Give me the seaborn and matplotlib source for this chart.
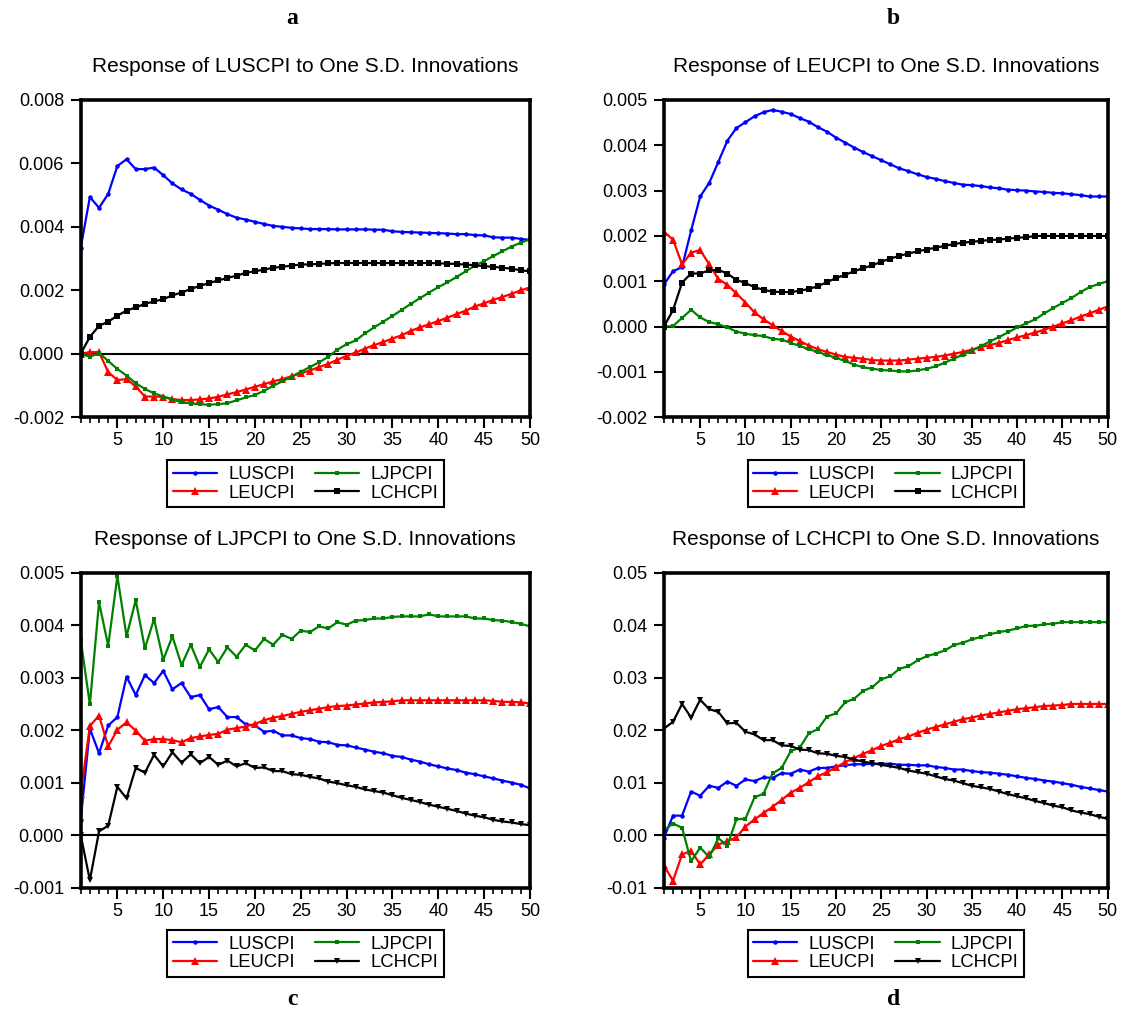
import matplotlib
matplotlib.use("Agg")
import matplotlib.pyplot as plt
import seaborn as sns
from matplotlib.ticker import FormatStrFormatter, MultipleLocator

steps = list(range(1, 51))
series_names = ["LUSCPI", "LEUCPI", "LJPCPI", "LCHCPI"]
series_colors = ["#0000FF", "#FF0000", "#008000", "#000000"]

# panel a: response of LUSCPI
a_luscpi = [0.00334, 0.00494, 0.0046, 0.00504, 0.00592, 0.00613, 0.00582, 0.00582, 0.00587, 0.00563,
            0.00537, 0.00518, 0.00504, 0.00485, 0.00467, 0.00454, 0.0044, 0.00429, 0.00423, 0.00416,
            0.00409, 0.00403, 0.004, 0.00397, 0.00395, 0.00393, 0.00393, 0.00393, 0.00392, 0.00392,
            0.00392, 0.00392, 0.00391, 0.00391, 0.00386, 0.00384, 0.00383, 0.00382, 0.00381, 0.0038,
            0.00379, 0.00377, 0.00377, 0.00374, 0.00373, 0.00367, 0.00366, 0.00366, 0.00362, 0.00359]
a_leucpi = [0.0, 0.00005, 0.00005, -0.00058, -0.00083, -0.0008, -0.00103, -0.00135, -0.00135, -0.00136,
            -0.00143, -0.00146, -0.00146, -0.00144, -0.00141, -0.00136, -0.00128, -0.00121, -0.00113, -0.00104,
            -0.00096, -0.00087, -0.0008, -0.00071, -0.00062, -0.00053, -0.00042, -0.00032, -0.00019, -0.00007,
            0.00004, 0.00016, 0.00027, 0.00037, 0.00048, 0.00058, 0.00072, 0.00083, 0.00093, 0.00103,
            0.00114, 0.00125, 0.00136, 0.00149, 0.00159, 0.0017, 0.00179, 0.00189, 0.002, 0.00209]
a_ljpcpi = [0.0, -0.0001, 0.00003, -0.00023, -0.00048, -0.00069, -0.00093, -0.00111, -0.00125, -0.00135,
            -0.00145, -0.00152, -0.00157, -0.00159, -0.00161, -0.00159, -0.00156, -0.00147, -0.00138, -0.0013,
            -0.00117, -0.00101, -0.00087, -0.00072, -0.00057, -0.00042, -0.00027, -0.0001, 0.00013, 0.0003,
            0.00042, 0.00064, 0.00083, 0.00101, 0.00119, 0.00138, 0.00157, 0.00175, 0.00193, 0.0021,
            0.00225, 0.00242, 0.0026, 0.00278, 0.00292, 0.00308, 0.00323, 0.00338, 0.0035, 0.00361]
a_lchcpi = [0.0, 0.00053, 0.00088, 0.00101, 0.0012, 0.00136, 0.00146, 0.00157, 0.00165, 0.00172,
            0.00184, 0.00193, 0.00204, 0.00214, 0.00223, 0.00231, 0.00239, 0.00246, 0.00255, 0.0026,
            0.00265, 0.00271, 0.00274, 0.00278, 0.00281, 0.00282, 0.00283, 0.00285, 0.00286, 0.00286,
            0.00286, 0.00286, 0.00286, 0.00286, 0.00286, 0.00286, 0.00286, 0.00286, 0.00286, 0.00285,
            0.00284, 0.00283, 0.00281, 0.00279, 0.00276, 0.00274, 0.00271, 0.00268, 0.00263, 0.0026]

# panel b: response of LEUCPI
b_luscpi = [0.00093, 0.00122, 0.00131, 0.00212, 0.00287, 0.00317, 0.00363, 0.0041, 0.00438, 0.00451,
            0.00464, 0.00473, 0.00478, 0.00474, 0.00469, 0.0046, 0.00452, 0.0044, 0.0043, 0.00417,
            0.00406, 0.00395, 0.00385, 0.00376, 0.00367, 0.00358, 0.00349, 0.00343, 0.00336, 0.0033,
            0.00326, 0.00321, 0.00317, 0.00313, 0.00312, 0.0031, 0.00307, 0.00305, 0.00302, 0.00301,
            0.003, 0.00298, 0.00297, 0.00295, 0.00294, 0.00292, 0.0029, 0.00287, 0.00287, 0.00287]
b_leucpi = [0.00209, 0.00192, 0.00137, 0.00163, 0.00169, 0.00137, 0.00105, 0.00092, 0.00073, 0.00053,
            0.00031, 0.00016, 0.00003, -0.0001, -0.00022, -0.00032, -0.00042, -0.0005, -0.00056, -0.00062,
            -0.00067, -0.00069, -0.00071, -0.00074, -0.00075, -0.00075, -0.00075, -0.00073, -0.00071, -0.00069,
            -0.00067, -0.00064, -0.0006, -0.00056, -0.00051, -0.00045, -0.00041, -0.00036, -0.0003, -0.00024,
            -0.00019, -0.00013, -0.00007, 0.0, 0.00007, 0.00014, 0.00022, 0.00029, 0.00037, 0.00044]
b_ljpcpi = [0.0, 0.00001, 0.00019, 0.00037, 0.0002, 0.0001, 0.00005, -0.00002, -0.00011, -0.00016,
            -0.00019, -0.00021, -0.00027, -0.00029, -0.00036, -0.00043, -0.0005, -0.00056, -0.00063, -0.00069,
            -0.00076, -0.00084, -0.0009, -0.00093, -0.00096, -0.00097, -0.00099, -0.00099, -0.00097, -0.00093,
            -0.00088, -0.0008, -0.00071, -0.00062, -0.00053, -0.00043, -0.00033, -0.00023, -0.00013, -0.00002,
            0.00007, 0.00016, 0.00029, 0.00041, 0.00052, 0.00063, 0.00076, 0.00087, 0.00094, 0.001]
b_lchcpi = [0.0, 0.00036, 0.00097, 0.00117, 0.00117, 0.00124, 0.00125, 0.00117, 0.00103, 0.00096,
            0.00087, 0.00081, 0.00077, 0.00076, 0.00076, 0.00079, 0.00083, 0.00089, 0.00098, 0.00107,
            0.00114, 0.00122, 0.00129, 0.00135, 0.00143, 0.0015, 0.00156, 0.00161, 0.00166, 0.0017,
            0.00174, 0.00178, 0.00182, 0.00185, 0.00187, 0.00189, 0.00191, 0.00192, 0.00194, 0.00196,
            0.00197, 0.002, 0.002, 0.002, 0.002, 0.002, 0.002, 0.002, 0.002, 0.002]

# panel c: response of LJPCPI
c_luscpi = [0.00029, 0.00203, 0.00156, 0.00209, 0.00225, 0.00302, 0.00267, 0.00305, 0.0029, 0.00313,
            0.00278, 0.0029, 0.00263, 0.00267, 0.0024, 0.00244, 0.00225, 0.00225, 0.00211, 0.00209,
            0.00197, 0.00199, 0.0019, 0.0019, 0.00185, 0.00183, 0.00178, 0.00177, 0.00172, 0.00171,
            0.00167, 0.00163, 0.00159, 0.00156, 0.00151, 0.00149, 0.00144, 0.0014, 0.00135, 0.00131,
            0.00127, 0.00124, 0.00119, 0.00116, 0.00112, 0.00108, 0.00104, 0.001, 0.00096, 0.00089]
c_leucpi = [0.00078, 0.00208, 0.00228, 0.00169, 0.00201, 0.00215, 0.00199, 0.0018, 0.00183, 0.00183,
            0.00181, 0.00177, 0.00185, 0.00188, 0.00191, 0.00193, 0.00201, 0.00204, 0.00207, 0.00212,
            0.00219, 0.00224, 0.00227, 0.00231, 0.00235, 0.00238, 0.00241, 0.00244, 0.00246, 0.00247,
            0.00249, 0.00251, 0.00253, 0.00254, 0.00255, 0.00257, 0.00257, 0.00257, 0.00257, 0.00257,
            0.00257, 0.00257, 0.00257, 0.00257, 0.00257, 0.00256, 0.00254, 0.00254, 0.00253, 0.00251]
c_ljpcpi = [0.00372, 0.00249, 0.00444, 0.00361, 0.00494, 0.00379, 0.00448, 0.00356, 0.00412, 0.00334,
            0.00379, 0.00324, 0.00363, 0.00321, 0.00354, 0.0033, 0.00358, 0.0034, 0.00363, 0.00352,
            0.00374, 0.00363, 0.00382, 0.00374, 0.0039, 0.00387, 0.00398, 0.00394, 0.00406, 0.00401,
            0.00409, 0.0041, 0.00413, 0.00413, 0.00416, 0.00417, 0.00417, 0.00417, 0.00421, 0.00417,
            0.00417, 0.00417, 0.00417, 0.00413, 0.00413, 0.0041, 0.00409, 0.00406, 0.00403, 0.00398]
c_lchcpi = [0.0, -0.00086, 0.00007, 0.00018, 0.00092, 0.0007, 0.00128, 0.00119, 0.00153, 0.00131,
            0.00158, 0.00138, 0.00154, 0.00137, 0.00149, 0.00134, 0.00142, 0.00131, 0.00137, 0.00128,
            0.00129, 0.00122, 0.00122, 0.00116, 0.00115, 0.00111, 0.00108, 0.00102, 0.00099, 0.00095,
            0.00092, 0.00087, 0.00084, 0.00081, 0.00076, 0.00071, 0.00067, 0.00063, 0.00058, 0.00054,
            0.0005, 0.00046, 0.00041, 0.00037, 0.00034, 0.00029, 0.00026, 0.00024, 0.00021, 0.00019]

# panel d: response of LCHCPI
d_luscpi = [-0.0005, 0.0037, 0.0037, 0.0083, 0.0075, 0.0094, 0.009, 0.0102, 0.0094, 0.0106,
            0.0103, 0.011, 0.0109, 0.0118, 0.0117, 0.0125, 0.0121, 0.0128, 0.0128, 0.0131,
            0.0133, 0.0135, 0.0135, 0.0136, 0.0136, 0.0136, 0.0134, 0.0134, 0.0133, 0.0133,
            0.013, 0.0128, 0.0125, 0.0125, 0.0122, 0.012, 0.0119, 0.0117, 0.0115, 0.0112,
            0.0109, 0.0107, 0.0104, 0.0102, 0.0099, 0.0096, 0.0092, 0.0089, 0.0086, 0.0083]
d_leucpi = [-0.0058, -0.0087, -0.0037, -0.003, -0.0056, -0.0037, -0.0018, -0.0012, -0.0004, 0.0016,
            0.003, 0.0042, 0.0054, 0.0067, 0.0081, 0.009, 0.0101, 0.0112, 0.012, 0.0129,
            0.0139, 0.0147, 0.0155, 0.0162, 0.017, 0.0176, 0.0183, 0.0188, 0.0195, 0.0201,
            0.0206, 0.0211, 0.0216, 0.0221, 0.0224, 0.0228, 0.0231, 0.0234, 0.0237, 0.024,
            0.0242, 0.0244, 0.0246, 0.0247, 0.0248, 0.025, 0.025, 0.025, 0.025, 0.025]
d_ljpcpi = [0.0009, 0.0022, 0.0014, -0.005, -0.0024, -0.0042, -0.0006, -0.002, 0.003, 0.0031,
            0.0072, 0.0079, 0.0118, 0.0128, 0.016, 0.0167, 0.0194, 0.0202, 0.0226, 0.0232,
            0.0253, 0.026, 0.0275, 0.0282, 0.0297, 0.0303, 0.0317, 0.0322, 0.0333, 0.0341,
            0.0346, 0.0352, 0.0362, 0.0367, 0.0373, 0.0378, 0.0383, 0.0387, 0.039, 0.0394,
            0.0399, 0.0399, 0.0402, 0.0403, 0.0406, 0.0406, 0.0406, 0.0406, 0.0406, 0.0406]
d_lchcpi = [0.0203, 0.0216, 0.025, 0.0224, 0.0258, 0.024, 0.0235, 0.0213, 0.0214, 0.0197,
            0.0192, 0.0181, 0.0181, 0.0171, 0.017, 0.0163, 0.0162, 0.0156, 0.0155, 0.0151,
            0.0149, 0.0144, 0.014, 0.0137, 0.0134, 0.0131, 0.0128, 0.0123, 0.012, 0.0117,
            0.0112, 0.0107, 0.0104, 0.0099, 0.0094, 0.0091, 0.0088, 0.0083, 0.0078, 0.0074,
            0.007, 0.0065, 0.0061, 0.0056, 0.0053, 0.0047, 0.0043, 0.004, 0.0035, 0.0031]

panels = [
    ("Response of LUSCPI to One S.D. Innovations", [a_luscpi, a_leucpi, a_ljpcpi, a_lchcpi],
     (-0.002, 0.008), 0.002, "%.3f", "s"),
    ("Response of LEUCPI to One S.D. Innovations", [b_luscpi, b_leucpi, b_ljpcpi, b_lchcpi],
     (-0.002, 0.005), 0.001, "%.3f", "s"),
    ("Response of LJPCPI to One S.D. Innovations", [c_luscpi, c_leucpi, c_ljpcpi, c_lchcpi],
     (-0.001, 0.005), 0.001, "%.3f", "v"),
    ("Response of LCHCPI to One S.D. Innovations", [d_luscpi, d_leucpi, d_ljpcpi, d_lchcpi],
     (-0.01, 0.05), 0.01, "%.2f", "v"),
]

# axes boxes in figure fractions [left, bottom, width, height]
boxes = [
    [0.0718, 0.589, 0.3997, 0.3125],
    [0.5907, 0.589, 0.3948, 0.3125],
    [0.0718, 0.1256, 0.3997, 0.3100],
    [0.5907, 0.1256, 0.3948, 0.3100],
]

sns.set_style("ticks")
plt.rcParams["font.family"] = ["Liberation Sans", "DejaVu Sans"]
for key in ["axes.edgecolor", "xtick.color", "ytick.color", "text.color", "axes.labelcolor"]:
    plt.rcParams[key] = "black"

fig = plt.figure(figsize=(11.24, 10.15), dpi=100)

for (title, data, ylim, ystep, fmt, black_marker), box in zip(panels, boxes):
    ax = fig.add_axes(box)
    markers = ["o", "^", "s", black_marker]
    sizes = [3.2, 5.5, 3.2, 4.5]
    for name, vals, color, m, ms in zip(series_names, data, series_colors, markers, sizes):
        sns.lineplot(x=steps, y=vals, ax=ax, color=color, marker=m, markersize=ms,
                     markeredgewidth=0, linewidth=1.6, label=name)
    ax.axhline(0, color="black", linewidth=1.5, zorder=1)
    ax.set_xlim(1, 50)
    ax.set_ylim(*ylim)
    ax.xaxis.set_major_locator(MultipleLocator(5))
    ax.xaxis.set_minor_locator(MultipleLocator(1))
    ax.yaxis.set_major_locator(MultipleLocator(ystep))
    ax.yaxis.set_major_formatter(FormatStrFormatter(fmt))
    ax.tick_params(axis="x", which="major", length=8, width=1.5, labelsize=13, pad=3)
    ax.tick_params(axis="x", which="minor", length=4, width=1.2)
    ax.tick_params(axis="y", which="major", length=7, width=1.5, labelsize=13, pad=5)
    for side in ["top", "right", "bottom", "left"]:
        ax.spines[side].set_visible(True)
        ax.spines[side].set_linewidth(2.6)
    ax.set_xlabel("")
    ax.set_ylabel("")
    ax.set_title(title, fontsize=15, pad=20)
    leg = ax.legend(ncol=2, loc="center", bbox_to_anchor=(0.5, -0.21), frameon=True,
                    fancybox=False, edgecolor="black", framealpha=1, fontsize=13.3,
                    handlelength=2.4, columnspacing=1.1, handletextpad=0.6,
                    labelspacing=0.08, borderpad=0.3, numpoints=1, borderaxespad=0)
    leg.get_frame().set_linewidth(1.5)

serif = ["Liberation Serif", "DejaVu Serif"]
fig.text(0.26, 0.982, "a", ha="center", va="center", fontsize=17, fontweight="bold", family=serif)
fig.text(0.795, 0.982, "b", ha="center", va="center", fontsize=17, fontweight="bold", family=serif)
fig.text(0.26, 0.015, "c", ha="center", va="center", fontsize=17, fontweight="bold", family=serif)
fig.text(0.795, 0.015, "d", ha="center", va="center", fontsize=17, fontweight="bold", family=serif)

fig.savefig("out.png", dpi=100)
